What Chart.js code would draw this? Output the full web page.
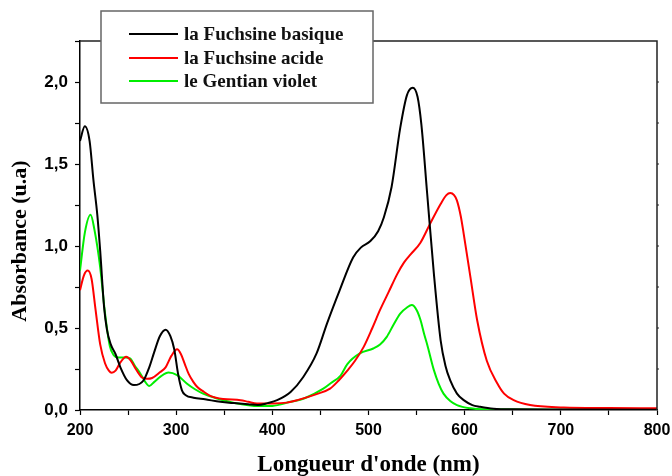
<!DOCTYPE html>
<html>
<head>
<meta charset="utf-8">
<script src="https://cdn.jsdelivr.net/npm/chart.js@4.4.1/dist/chart.umd.min.js"></script>
<style>
html,body{margin:0;padding:0;background:#fff;}
#wrap{position:relative;width:672px;height:476px;}
</style>
</head>
<body>
<div id="wrap"><canvas id="c" width="672" height="476"></canvas></div>
<script>
const seriesLabels = ["la Fuchsine basique", "la Fuchsine acide", "le Gentian violet"];
const xTitle = "Longueur d'onde (nm)";
const yTitle = "Absorbance (u.a)";

const basiqueNm  = [200,205,210,214,218,221,225,228,232,237,242,249,256,266,272,277,283,289,294,298,302,306,310,318,330,346,360,375,385,395,405,419,432,446,457,470,484,492,502,510,516,524,533,540,546,551,555,561,568,575,580,585,592,599,608,616,630,651,700,800];
const basiqueAbs = [1.64,1.73,1.64,1.40,1.19,0.97,0.63,0.49,0.40,0.34,0.26,0.18,0.152,0.18,0.26,0.35,0.45,0.49,0.45,0.37,0.22,0.12,0.09,0.075,0.065,0.05,0.042,0.035,0.03,0.042,0.06,0.11,0.20,0.345,0.53,0.73,0.93,0.99,1.03,1.09,1.175,1.36,1.72,1.92,1.965,1.91,1.74,1.32,0.83,0.425,0.27,0.18,0.10,0.06,0.03,0.02,0.008,0.004,0.003,0.002];

const acideNm  = [200,204,208,212,216,221,226,230,233,237,242,248,253,258,264,270,275,283,289,295,301,305,309,313,318,322,329,336,349,367,375,384,401,415,426,446,460,469,478,486,495,504,512,521,530,537,544,554,564,575,581,585,589,592,596,599,606,613,623,634,641,651,668,703,750,800];
const acideAbs = [0.73,0.82,0.85,0.80,0.62,0.40,0.285,0.24,0.227,0.24,0.29,0.325,0.30,0.25,0.20,0.19,0.195,0.23,0.26,0.33,0.37,0.34,0.28,0.22,0.17,0.14,0.11,0.085,0.067,0.06,0.05,0.04,0.04,0.045,0.06,0.097,0.13,0.18,0.24,0.30,0.385,0.50,0.61,0.72,0.83,0.90,0.95,1.02,1.135,1.256,1.31,1.323,1.31,1.277,1.18,1.074,0.81,0.547,0.30,0.162,0.10,0.06,0.03,0.016,0.012,0.01];

const gentianNm  = [200,205,211,215,221,226,231,235,240,247,252,257,263,268,272,277,284,292,301,311,320,328,340,349,367,384,400,419,433,453,461,471,478,491,505,512,519,526,533,540,545,550,554,558,561,568,573,578,585,592,606,620,700,800];
const gentianAbs = [0.85,1.08,1.19,1.10,0.87,0.59,0.39,0.335,0.32,0.32,0.315,0.27,0.22,0.17,0.146,0.17,0.205,0.229,0.213,0.162,0.125,0.10,0.075,0.06,0.036,0.024,0.025,0.05,0.07,0.13,0.165,0.21,0.28,0.345,0.375,0.40,0.446,0.52,0.588,0.625,0.64,0.61,0.55,0.46,0.40,0.243,0.16,0.10,0.055,0.03,0.01,0.004,0.002,0.002];

const seriesColors = ["#000000", "#ff0000", "#00ee00"];

function toPoints(xs, ys){ return xs.map((x,i)=>({x:x, y:ys[i]})); }

const SERIF = '"Liberation Serif", "Times New Roman", serif';
const SANS = '"Liberation Sans", Arial, sans-serif';

const framePlugin = {
  id: 'frame',
  afterDatasetsDraw(chart){
    const {ctx, chartArea:a} = chart;
    ctx.save();
    ctx.strokeStyle = '#222';
    ctx.lineWidth = 1.5;
    ctx.beginPath();
    ctx.moveTo(a.left, a.top); ctx.lineTo(a.right, a.top); ctx.lineTo(a.right, a.bottom);
    ctx.stroke();
    const ys = chart.scales.y;
    ctx.lineWidth = 1;
    for (let v = 0.25; v < 2.25; v += 0.25){
      const p = ys.getPixelForValue(v);
      ctx.beginPath(); ctx.moveTo(a.right, p); ctx.lineTo(a.right+2, p); ctx.stroke();
    }
    ctx.restore();
  },
  afterDraw(chart){
    const ctx = chart.ctx;
    ctx.save();
    // y axis title
    ctx.translate(20, 241);
    ctx.rotate(-Math.PI/2);
    ctx.font = 'bold 22px ' + SERIF;
    ctx.fillStyle = '#000';
    ctx.textAlign = 'center';
    ctx.textBaseline = 'middle';
    ctx.fillText(yTitle, 0, 0);
    ctx.restore();

    ctx.save();
    ctx.fillStyle = '#fff';
    ctx.fillRect(101, 11, 272, 92);
    ctx.strokeStyle = '#666';
    ctx.lineWidth = 1.5;
    ctx.strokeRect(101, 11, 272, 92);
    const rows = [34, 58, 81];
    ctx.font = 'bold 19px ' + SERIF;
    ctx.textBaseline = 'middle';
    ctx.textAlign = 'left';
    chart.data.datasets.forEach((ds, i) => {
      ctx.strokeStyle = ds.borderColor;
      ctx.lineWidth = 2;
      ctx.beginPath(); ctx.moveTo(129, rows[i]); ctx.lineTo(178, rows[i]); ctx.stroke();
      ctx.fillStyle = '#111';
      ctx.fillText(ds.label, 184, rows[i] + 1);
    });
    ctx.restore();
  }
};

new Chart(document.getElementById('c'), {
  type: 'line',
  data: {
    datasets: [
      {label: seriesLabels[0], data: toPoints(basiqueNm, basiqueAbs), borderColor: seriesColors[0]},
      {label: seriesLabels[1], data: toPoints(acideNm, acideAbs), borderColor: seriesColors[1]},
      {label: seriesLabels[2], data: toPoints(gentianNm, gentianAbs), borderColor: seriesColors[2]}
    ]
  },
  options: {
    responsive: false,
    animation: false,
    devicePixelRatio: 1,
    elements: {
      point: {radius: 0},
      line: {borderWidth: 2, cubicInterpolationMode: 'monotone', fill: false}
    },
    layout: {padding: {top: 41, right: 15, left: 0, bottom: 0}},
    plugins: {legend: {display: false}, tooltip: {enabled: false}},
    scales: {
      x: {
        type: 'linear', min: 200, max: 800,
        afterFit(s){ s.height = 66; s.paddingRight = 0; s.paddingLeft = 0; },
        ticks: {
          stepSize: 50, autoSkip: false, maxRotation: 0, padding: 6,
          color: '#000',
          font: {family: SANS, weight: 'bold', size: 16},
          callback: v => (v % 100 === 0 ? String(v) : '')
        },
        grid: {drawOnChartArea: false, tickLength: 5, color: '#000', tickWidth: 1.2},
        border: {display: true, color: '#000', width: 1.5},
        title: {
          display: true, text: xTitle, color: '#000',
          font: {family: SERIF, weight: 'bold', size: 23, lineHeight: 1},
          padding: {top: 0, bottom: -1}
        }
      },
      y: {
        type: 'linear', min: 0, max: 2.25,
        afterFit(s){ s.width = 80; },
        ticks: {
          stepSize: 0.25, autoSkip: false, padding: 7,
          color: '#000',
          font: {family: SANS, weight: 'bold', size: 17},
          callback: v => (Math.abs(v*2 - Math.round(v*2)) < 1e-6 && v <= 2.0 ? v.toFixed(1).replace('.', ',') : '')
        },
        grid: {drawOnChartArea: false, tickLength: 5, color: '#000', tickWidth: 1.2},
        border: {display: true, color: '#000', width: 1.5},
        title: {display: false}
      }
    }
  },
  plugins: [framePlugin]
});
</script>
</body>
</html>
